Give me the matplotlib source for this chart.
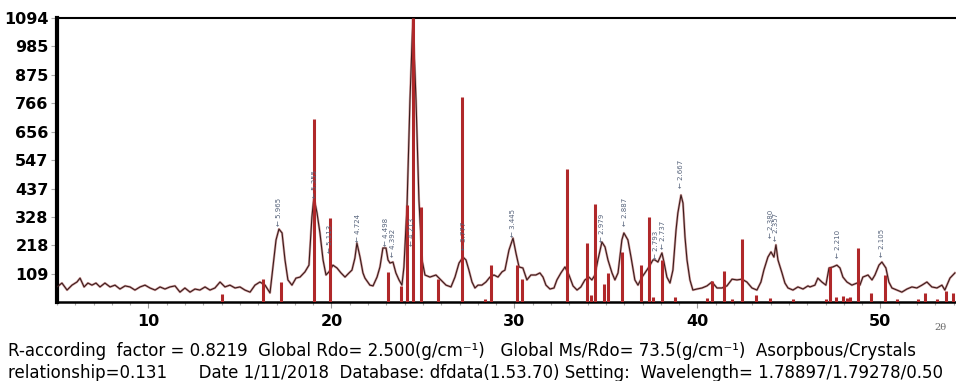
import matplotlib
matplotlib.use("Agg")
import matplotlib.pyplot as plt
import matplotlib.ticker as ticker

# measured pattern (2theta, counts)
two_theta = [
    5.00, 5.27, 5.55, 5.82, 6.09, 6.26, 6.48, 6.69, 6.91, 7.13, 7.35, 7.62, 7.90, 8.17,
    8.44, 8.72, 8.99, 9.26, 9.54, 9.81, 10.08, 10.36, 10.63, 10.90, 11.17, 11.45, 11.72,
    11.99, 12.27, 12.54, 12.81, 13.09, 13.36, 13.63, 13.91, 14.18, 14.45, 14.73, 15.00,
    15.27, 15.55, 15.82, 16.09, 16.37, 16.64, 16.80, 16.97, 17.13, 17.30, 17.46, 17.62,
    17.84, 18.06, 18.28, 18.55, 18.77, 18.93, 19.04, 19.21, 19.37, 19.54, 19.70, 19.86,
    20.08, 20.30, 20.52, 20.74, 20.96, 21.12, 21.28, 21.39, 21.56, 21.72, 21.83, 22.10,
    22.27, 22.49, 22.65, 22.81, 22.98, 23.09, 23.20, 23.36, 23.52, 23.69, 23.85, 23.96,
    24.13, 24.29, 24.45, 24.62, 24.78, 24.95, 25.11, 25.38, 25.71, 25.98, 26.26, 26.53,
    26.75, 26.97, 27.19, 27.35, 27.51, 27.68, 27.84, 28.01, 28.22, 28.44, 28.66, 28.88,
    29.10, 29.32, 29.48, 29.70, 29.92, 30.08, 30.25, 30.46, 30.68, 30.90, 31.17, 31.39,
    31.56, 31.72, 31.94, 32.16, 32.32, 32.54, 32.76, 32.98, 33.20, 33.42, 33.63, 33.85,
    34.07, 34.23, 34.40, 34.56, 34.78, 34.95, 35.11, 35.33, 35.49, 35.66, 35.87, 35.98,
    36.20, 36.37, 36.58, 36.75, 36.97, 37.13, 37.35, 37.57, 37.68, 37.84, 38.06, 38.17,
    38.33, 38.50, 38.66, 38.83, 38.93, 39.10, 39.21, 39.32, 39.43, 39.59, 39.75, 39.97,
    40.25, 40.52, 40.79, 41.07, 41.34, 41.61, 41.89, 42.16, 42.43, 42.70, 42.98, 43.25,
    43.47, 43.63, 43.85, 44.02, 44.18, 44.29, 44.40, 44.62, 44.78, 44.95, 45.22, 45.49,
    45.77, 46.04, 46.15, 46.42, 46.58, 46.80, 47.02, 47.19, 47.40, 47.62, 47.79, 47.95,
    48.17, 48.44, 48.72, 48.88, 49.04, 49.32, 49.54, 49.70, 49.92, 50.08, 50.30, 50.46,
    50.63, 50.90, 51.17, 51.45, 51.72, 51.99, 52.27, 52.54, 52.81, 53.09, 53.36, 53.52,
    53.80, 54.07,
]
counts = [
    58, 73, 46, 65, 77, 92, 58, 73, 65, 73, 58, 73, 58, 65,
    50, 62, 58, 46, 58, 65, 54, 46, 58, 50, 58, 62, 38,
    54, 38, 50, 46, 58, 46, 54, 77, 58, 65, 54, 58,
    46, 38, 65, 77, 65, 35, 135, 239, 281, 266, 162, 85,
    65, 92, 96, 116, 142, 327, 404, 343, 266, 162, 104, 116,
    142, 131, 112, 96, 112, 123, 169, 227, 173, 112, 92, 65,
    62, 96, 135, 208, 208, 162, 150, 154, 112, 85, 65, 135,
    373, 778, 1094, 778, 393, 162, 104, 96, 104, 85, 65, 58,
    96, 150, 173, 162, 123, 77, 54, 65, 65, 77, 96, 104,
    96, 116, 123, 200, 246, 189, 135, 131, 85, 104, 104, 112,
    96, 65, 50, 54, 85, 112, 135, 104, 62, 46, 58, 85,
    96, 85, 104, 162, 231, 212, 162, 112, 85, 112, 239, 266,
    239, 173, 85, 65, 96, 112, 135, 162, 162, 154, 189, 154,
    96, 73, 123, 277, 343, 412, 381, 250, 162, 85, 46, 50,
    54, 62, 77, 54, 54, 62, 88, 85, 88, 77, 54, 46,
    77, 123, 173, 193, 173, 220, 162, 112, 73, 54, 46, 58,
    50, 62, 58, 65, 92, 77, 65, 131, 135, 142, 131, 96,
    77, 65, 73, 65, 96, 104, 85, 104, 142, 154, 131, 77,
    54, 46, 38, 50, 58, 54, 65, 77, 58, 54, 65, 46,
    92, 112,
]

# reference card sticks
stick_pos = [
    14.02, 16.26, 17.24, 19.04, 19.92, 23.09, 23.80, 24.13, 24.45, 24.89, 25.82, 27.13,
    28.39, 28.72, 30.14, 30.41, 32.87, 33.96, 34.18, 34.40, 34.89, 35.11, 35.87, 36.91,
    37.35, 37.57, 38.06, 38.77, 40.52, 40.79, 41.45, 41.89, 42.43, 43.20, 43.96, 45.22,
    47.02, 47.24, 47.57, 47.95, 48.17, 48.33, 48.77, 49.48, 50.25, 50.90, 52.05, 52.43,
    53.09, 53.58, 53.96,
]
stick_int = [
    31, 88, 77, 704, 323, 116, 62, 373, 1094, 366, 90, 790,
    10, 142, 142, 90, 514, 229, 27, 377, 69, 112, 191, 142,
    327, 19, 160, 19, 15, 80, 119, 10, 241, 27, 14, 12,
    10, 135, 19, 23, 15, 19, 208, 35, 104, 12, 12, 35,
    12, 42, 35,
]

# d-spacing labels
peak_pos = [17.13, 19.10, 19.92, 21.45, 22.98, 23.36, 24.40, 27.24, 29.92, 34.78,
            36.04, 37.72, 38.12, 39.10, 44.00, 44.27, 47.68, 50.08]
peak_base = [285, 393, 181, 227, 208, 169, 208, 193, 246, 227,
             285, 158, 200, 435, 239, 230, 162, 169]
peak_d = ["5.965", "5.355", "5.113", "4.724", "4.498", "4.392", "4.213", "3.777", "3.445",
          "2.979", "2.887", "2.793", "2.737", "2.667", "2.380", "2.357", "2.210", "2.105"]

y_ticks = [109, 218, 328, 437, 547, 656, 766, 875, 985, 1094]
x_ticks = [10, 20, 30, 40, 50]

fig = plt.figure(figsize=(9.56, 3.81), dpi=100)
ax = fig.add_axes([57 / 956, 1 - 302 / 381, 899 / 956, 284 / 381])

ax.plot(two_theta, counts, color="#d4a0a0", linewidth=1.7, zorder=2)
ax.plot(two_theta, counts, color="#3a1c1c", linewidth=0.8, zorder=3)
ax.vlines(stick_pos, 0, stick_int, color="#b0282a", linewidth=2.2, zorder=4)

for x, yb, lab in zip(peak_pos, peak_base, peak_d):
    ax.text(x, yb + 6, "\u2190 " + lab, rotation=90, ha="center", va="bottom",
            fontsize=5, color="#55627a", zorder=5)

ax.set_xlim(5, 54.13)
ax.set_ylim(0, 1094)
ax.set_yticks(y_ticks)
ax.set_xticks(x_ticks)
ax.xaxis.set_minor_locator(ticker.MultipleLocator(1))
ax.tick_params(axis="y", length=4, width=0.8, color="#aaaaaa", pad=2,
               labelsize=11.5)
ax.tick_params(axis="x", which="major", length=4, width=0.8, color="#999999", pad=5,
               labelsize=11.5)
ax.tick_params(axis="x", which="minor", length=2.5, width=0.8, color="#aaaaaa")
for lab in ax.get_xticklabels() + ax.get_yticklabels():
    lab.set_fontweight("bold")

ax.spines["left"].set_linewidth(3)
ax.spines["bottom"].set_linewidth(1.8)
ax.spines["top"].set_linewidth(1.5)
ax.spines["right"].set_visible(False)

fig.text(940 / 956, 1 - 327 / 381, "2\u03b8", fontsize=7, color="#666666",
         family="DejaVu Serif", ha="center", va="center")

fam = ["Liberation Sans Narrow", "DejaVu Sans"]
fig.text(8 / 956, 1 - 351 / 381,
         "R-according  factor = 0.8219  Global Rdo= 2.500(g/cm\u207b\u00b9)   "
         "Global Ms/Rdo= 73.5(g/cm\u207b\u00b9)  Asorpbous/Crystals",
         fontsize=12, family=fam, va="center", ha="left")
fig.text(8 / 956, 1 - 373 / 381,
         "relationship=0.131      Date 1/11/2018  Database: dfdata(1.53.70) Setting:  "
         "Wavelength= 1.78897/1.79278/0.50",
         fontsize=12, family=fam, va="center", ha="left")

fig.savefig("out.png", dpi=100)
